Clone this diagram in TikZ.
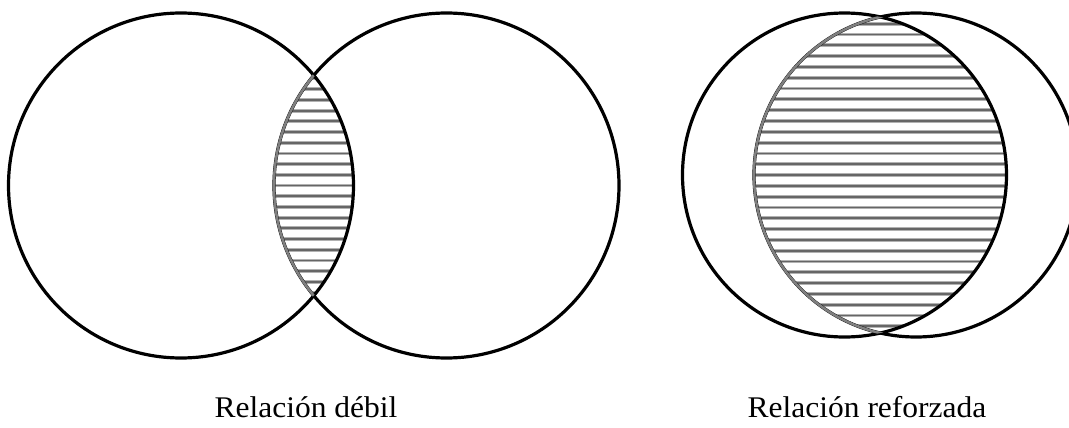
\documentclass[tikz,border=0pt]{standalone}
\usepackage{fontspec}
\setmainfont{Liberation Serif}

\begin{document}
\begin{tikzpicture}[
            x=1pt, y=-1pt,
            ring/.style={draw=black, line width=3.2pt},
            seam/.style={draw=gray, line width=2.6pt},
            hatch/.style={draw=gray!60, line width=3.8pt},
            hatchcore/.style={draw=black!60, line width=1.8pt},
            lbl/.style={anchor=base, inner sep=0pt, xscale=1.05, font=\fontsize{30}{34}\selectfont}
        ]
        \useasboundingbox (0,0) rectangle (1069,428);
        \coordinate (a1) at (181,185.5);
        \coordinate (b1) at (446.5,185.5);
        \coordinate (a2) at (844.5,175);
        \coordinate (b2) at (916,175);
        \begin{scope}
            \clip (a1) circle (172.5);
            \clip (b1) circle (172.5);
            \foreach \k in {-10,...,10} {
                \draw[hatch] (250,185.5+\k*10.7) -- (380,185.5+\k*10.7);
                \draw[hatchcore] (250,185.5+\k*10.7) -- (380,185.5+\k*10.7);
            }
        \end{scope}
        \begin{scope}
            \clip (a2) circle (162);
            \clip (b2) circle (162);
            \foreach \k in {-15,...,15} {
                \draw[hatch] (740,175+\k*10.8) -- (1020,175+\k*10.8);
                \draw[hatchcore] (740,175+\k*10.8) -- (1020,175+\k*10.8);
            }
        \end{scope}
        \draw[ring] (a1) circle (172.5);
        \draw[ring] (b1) circle (172.5);
        \draw[ring] (a2) circle (162);
        \draw[ring] (b2) circle (162);
        \begin{scope}
            \clip (a1) circle (172.5);
            \draw[seam] (b1) circle (172.5);
        \end{scope}
        \begin{scope}
            \clip (a2) circle (162);
            \draw[seam] (b2) circle (162);
        \end{scope}
        \node[lbl] (weak) at (306,417) {Relación débil};
        \node[lbl] (strong) at (867,417) {Relación reforzada};
    \end{tikzpicture}
\end{document}
